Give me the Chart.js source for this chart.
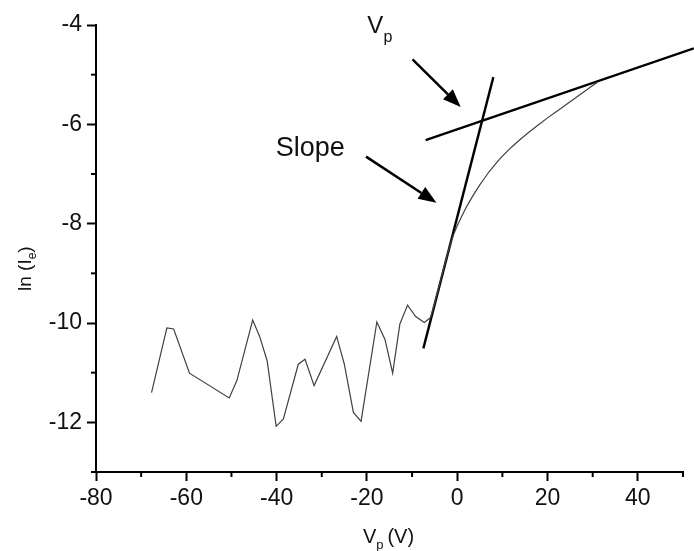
<!DOCTYPE html>
<html><head><meta charset="utf-8">
<script src="https://cdn.jsdelivr.net/npm/chart.js@4.4.1/dist/chart.umd.min.js"></script>
<style>html,body{margin:0;padding:0;background:#fff}#wrap{width:694px;height:551px}</style>
</head><body><div id="wrap"><canvas id="c" width="694" height="551"></canvas></div>
<script>
// ---- data ----
const probeVoltage = [-67.7, -64.3, -62.8, -59.3, -50.5, -48.8, -45.3, -43.8, -42.1, -40.1, -38.5, -35.2, -33.7, -31.7, -26.7, -25.0, -23.0, -21.3, -17.8, -16.0, -14.3, -12.7, -11.0, -9.2, -7.3, -5.9, -5.0, -4.0, -3.0, -2.0, -1.0, 0, 1, 2, 3, 4, 5, 6, 7, 8, 9, 10, 12, 14, 16, 18, 20, 22, 24, 26, 28, 30, 31];
const lnCurrent = [-11.40, -10.10, -10.12, -11.01, -11.51, -11.16, -9.94, -10.26, -10.76, -12.08, -11.93, -10.83, -10.73, -11.26, -10.27, -10.83, -11.80, -11.98, -9.98, -10.33, -11.01, -10.02, -9.64, -9.87, -9.99, -9.89, -9.60, -9.25, -8.90, -8.56, -8.26, -8.04, -7.85, -7.67, -7.51, -7.36, -7.22, -7.09, -6.96, -6.85, -6.74, -6.64, -6.46, -6.30, -6.15, -6.01, -5.87, -5.74, -5.61, -5.48, -5.35, -5.22, -5.16];
const slopeFitX = [-7.5, 8.0];
const slopeFitY = [-10.51, -5.05];
const satFitX = [-7.0, 52.4];
const satFitY = [-6.32, -4.47];
const xTicks = [-80, -60, -40, -20, 0, 20, 40];
const xMinorTicks = [-70, -50, -30, -10, 10, 30, 50];
const yTicks = [-12, -10, -8, -6, -4];
const yMinorTicks = [-13, -11, -9, -7, -5];
const arrowStartX = [-9.9, -20.2];
const arrowStartY = [-4.69, -6.65];
const arrowEndX = [0.77, -4.6];
const arrowEndY = [-5.65, -7.58];

const FONT = '"Liberation Sans", Arial, Helvetica, sans-serif';
const pts = (xs, ys) => xs.map((v, i) => ({x: v, y: ys[i]}));

const annot = {
  id: 'annot',
  afterDraw(chart) {
    const ctx = chart.ctx, xs = chart.scales.x, ys = chart.scales.y, ca = chart.chartArea;
    const X = v => xs.getPixelForValue(v), Y = v => ys.getPixelForValue(v);
    ctx.save();
    ctx.strokeStyle = '#000'; ctx.lineWidth = 2; ctx.lineCap = 'butt';
    xMinorTicks.forEach(v => { const p = X(v); ctx.beginPath(); ctx.moveTo(p, ca.bottom); ctx.lineTo(p, ca.bottom + 5); ctx.stroke(); });
    yMinorTicks.forEach(v => { const p = Y(v); ctx.beginPath(); ctx.moveTo(ca.left, p); ctx.lineTo(ca.left - 5, p); ctx.stroke(); });
    // arrows
    ctx.fillStyle = '#000'; ctx.lineWidth = 2.5;
    arrowStartX.forEach((v, i) => {
      const x0 = X(v), y0 = Y(arrowStartY[i]), x1 = X(arrowEndX[i]), y1 = Y(arrowEndY[i]);
      const a = Math.atan2(y1 - y0, x1 - x0), L = 18, W = 7;
      const bx = x1 - L * Math.cos(a), by = y1 - L * Math.sin(a);
      ctx.beginPath(); ctx.moveTo(x0, y0); ctx.lineTo(bx, by); ctx.stroke();
      ctx.beginPath(); ctx.moveTo(x1, y1);
      ctx.lineTo(bx + W * Math.sin(a), by - W * Math.cos(a));
      ctx.lineTo(bx - W * Math.sin(a), by + W * Math.cos(a));
      ctx.closePath(); ctx.fill();
    });
    // labels
    ctx.fillStyle = '#111'; ctx.textBaseline = 'alphabetic'; ctx.textAlign = 'left';
    ctx.font = '27px ' + FONT;
    ctx.fillText('Slope', X(-40.2), Y(-6.64));
    ctx.font = '24px ' + FONT;
    let lx = X(-19.9), ly = Y(-4.16);
    ctx.fillText('V', lx, ly);
    lx += ctx.measureText('V').width;
    ctx.font = '16px ' + FONT;
    ctx.fillText('p', lx, ly + 9);
    // x axis title
    ctx.font = '20px ' + FONT;
    const wV = ctx.measureText('V').width, wRest = ctx.measureText('(V)').width;
    ctx.font = '13px ' + FONT;
    const wp = ctx.measureText('p').width;
    const total = wV + wp + 4 + wRest;
    let tx = (ca.left + ca.right) / 2 - total / 2 - 1, ty = 543;
    ctx.font = '20px ' + FONT; ctx.fillText('V', tx, ty); tx += wV;
    ctx.font = '13px ' + FONT; ctx.fillText('p', tx, ty + 6); tx += wp + 4;
    ctx.font = '20px ' + FONT; ctx.fillText('(V)', tx, ty);
    // y axis title (rotated)
    ctx.translate(31, 291); ctx.rotate(-Math.PI / 2);
    ctx.font = '19px ' + FONT;
    let ry = 0, rx = 0;
    ctx.fillText('ln (I', rx, ry); rx += ctx.measureText('ln (I').width;
    ctx.font = '12px ' + FONT; ctx.fillText('e', rx, ry + 5); rx += ctx.measureText('e').width;
    ctx.font = '19px ' + FONT; ctx.fillText(')', rx, ry);
    ctx.restore();
  }
};

new Chart(document.getElementById('c'), {
  type: 'scatter',
  data: {
    datasets: [
      {data: pts(probeVoltage, lnCurrent), showLine: true, borderColor: '#404040', borderWidth: 1.2, pointRadius: 0, tension: 0},
      {data: pts(slopeFitX, slopeFitY), showLine: true, borderColor: '#000', borderWidth: 2.4, pointRadius: 0, clip: false},
      {data: pts(satFitX, satFitY), showLine: true, borderColor: '#000', borderWidth: 2.4, pointRadius: 0, clip: false}
    ]
  },
  options: {
    responsive: false, animation: false, devicePixelRatio: 1,
    layout: {padding: {left: 0, right: 11, top: 25, bottom: 0}},
    plugins: {legend: {display: false}, tooltip: {enabled: false}},
    scales: {
      x: {
        type: 'linear', min: -80, max: 50,
        afterBuildTicks: s => { s.ticks = xTicks.map(v => ({value: v})); },
        afterFit: s => { s.height = 79; },
        border: {display: true, color: '#000', width: 2},
        grid: {drawOnChartArea: false, drawTicks: true, tickLength: 9, tickColor: '#000', tickWidth: 2},
        ticks: {color: '#111', font: {family: FONT, size: 23}, padding: 4, maxRotation: 0}
      },
      y: {
        type: 'linear', min: -13, max: -4,
        afterBuildTicks: s => { s.ticks = yTicks.map(v => ({value: v})); },
        afterFit: s => { s.width = 96; },
        border: {display: true, color: '#000', width: 2},
        grid: {drawOnChartArea: false, drawTicks: true, tickLength: 9, tickColor: '#000', tickWidth: 2},
        ticks: {color: '#111', font: {family: FONT, size: 23}, padding: 5}
      }
    }
  },
  plugins: [annot]
});
</script></body></html>
